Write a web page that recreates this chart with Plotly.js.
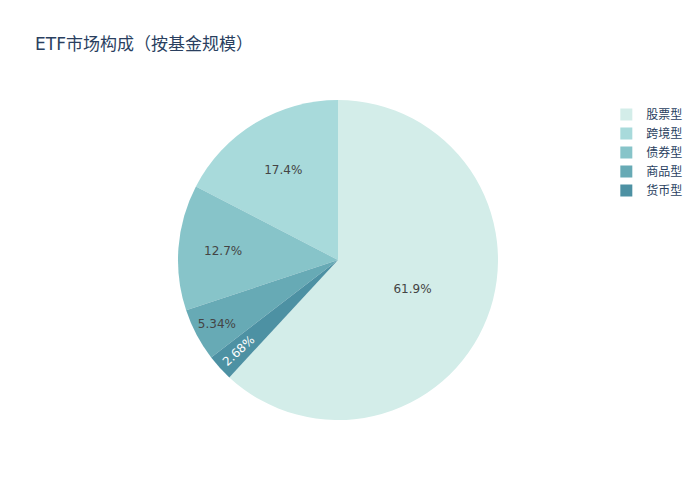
<!DOCTYPE html>
<html>
<head>
<meta charset="utf-8">
<script src="https://cdn.plot.ly/plotly-3.0.1.min.js"></script>
<style>html,body{margin:0;padding:0;}</style>
</head>
<body>
<div id="chart" style="width:700px;height:500px;"></div>
<script>
const categories = ["股票型", "跨境型", "债券型", "商品型", "货币型"];
const shares = [61.9, 17.4, 12.7, 5.34, 2.68];
const sliceColors = ["#d3ede9", "#a8dadb", "#87c4c9", "#67aab5", "#4d91a3"];

Plotly.newPlot("chart", [{
  type: "pie",
  labels: categories,
  values: shares,
  marker: {colors: sliceColors},
  textinfo: "percent"
}], {
  title: {text: "ETF市场构成（按基金规模）", x: 0.05, xanchor: "left", font: {color: "#2a3f5f", size: 17}},
  font: {family: "'DejaVu Sans', 'Noto Sans CJK SC', sans-serif", color: "#444"},
  legend: {font: {color: "#2a3f5f"}},
  width: 700,
  height: 500
}, {displayModeBar: false});
</script>
</body>
</html>
